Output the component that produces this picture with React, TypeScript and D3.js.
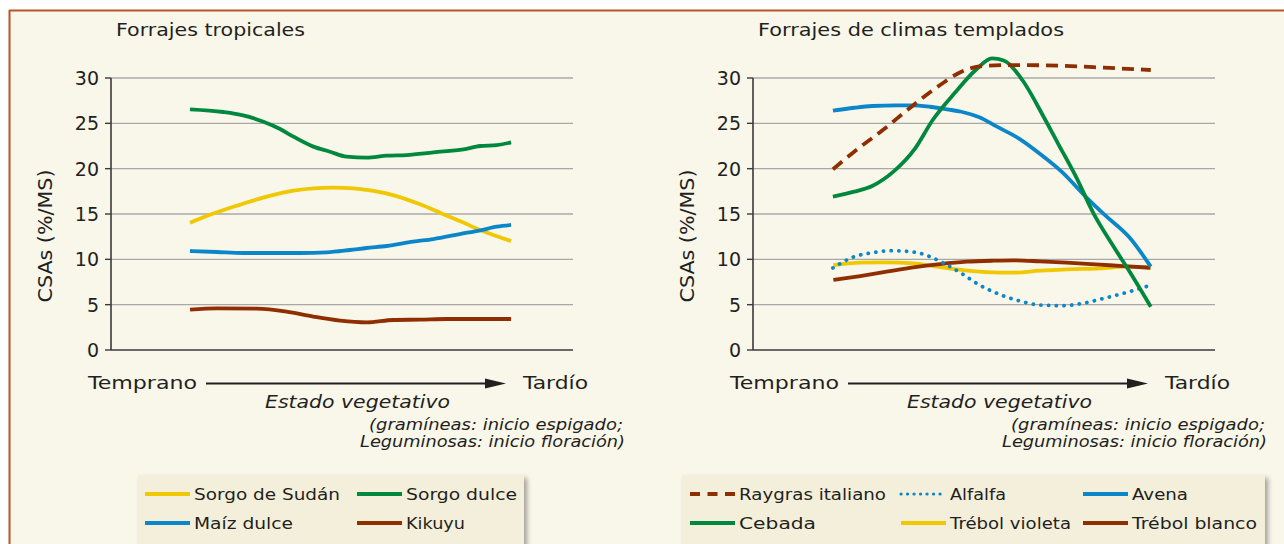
import React from "react";
import * as d3 from "d3";

// Stage along the vegetative axis (0 = axis start, 100 = axis end), CSAs (%/MS)
const sorgoSudan: [number, number][] = [
  [17.1, 14.04], [20.7, 14.78], [26.5, 15.8], [33.7, 16.91], [39.5, 17.57], [43.8, 17.83],
  [48.1, 17.9], [52.5, 17.83], [55.3, 17.65], [60.4, 17.17], [66.9, 16.07], [71.2, 15.14],
  [75.5, 14.23], [79.9, 13.24], [86.6, 12.02],
];
const sorgoDulce: [number, number][] = [
  [17.1, 26.55], [24.3, 26.25], [28.6, 25.88], [33.0, 25.18], [36.6, 24.37], [39.5, 23.53],
  [43.8, 22.43], [47.4, 21.87], [51.0, 21.32], [55.3, 21.21], [59.7, 21.43], [64.0, 21.5],
  [69.8, 21.8], [76.3, 22.13], [79.9, 22.5], [83.5, 22.6], [86.6, 22.9],
];
const maizDulce: [number, number][] = [
  [17.1, 10.92], [22.9, 10.81], [28.6, 10.7], [35.9, 10.7], [40.9, 10.7], [46.7, 10.77],
  [51.7, 11.03], [55.3, 11.25], [59.7, 11.47], [65.4, 11.95], [69.8, 12.24], [75.5, 12.79],
  [79.9, 13.2], [83.5, 13.6], [86.6, 13.79],
];
const kikuyu: [number, number][] = [
  [17.1, 4.45], [22.9, 4.6], [31.5, 4.56], [38.0, 4.23], [43.8, 3.68], [49.6, 3.24],
  [55.3, 3.05], [61.1, 3.31], [66.9, 3.35], [72.7, 3.42], [79.2, 3.42], [86.6, 3.42],
];

const raygras: [number, number][] = [
  [17.3, 19.93], [21.9, 21.87], [28.1, 24.26], [34.3, 26.84], [40.5, 29.23], [45.1, 30.7],
  [49.8, 31.32], [56.7, 31.43], [66.0, 31.36], [76.0, 31.14], [86.1, 30.88],
];
const cebada: [number, number][] = [
  [17.3, 16.91], [21.9, 17.46], [25.8, 18.09], [30.4, 19.67], [35.1, 22.24], [38.9, 25.37],
  [43.6, 28.31], [48.2, 30.88], [51.7, 32.17], [54.4, 31.91], [58.3, 29.78], [62.9, 25.73],
  [66.0, 22.8], [69.9, 19.12], [73.7, 15.08], [77.6, 11.77], [82.2, 8.09], [86.1, 4.78],
];
const avena: [number, number][] = [
  [17.3, 26.4], [21.9, 26.72], [25.8, 26.91], [31.2, 26.98], [34.3, 26.98], [38.2, 26.83],
  [42.0, 26.54], [45.1, 26.28], [49.0, 25.66], [52.8, 24.63], [57.5, 23.35], [62.9, 21.32],
  [66.8, 19.67], [72.2, 16.8], [76.0, 14.95], [81.5, 12.4], [86.1, 9.19],
];
const alfalfa: [number, number][] = [
  [17.3, 9.05], [21.9, 10.29], [25.8, 10.73], [29.7, 10.95], [33.5, 10.88], [37.4, 10.48],
  [41.3, 9.56], [45.1, 8.46], [49.0, 7.17], [52.8, 6.25], [57.5, 5.44], [62.1, 4.96],
  [66.8, 4.89], [71.4, 5.15], [76.0, 5.7], [80.7, 6.32], [86.1, 7.15],
];
const trebolVioleta: [number, number][] = [
  [17.4, 9.37], [23.2, 9.63], [28.9, 9.67], [34.7, 9.56], [39.0, 9.26], [45.5, 8.82],
  [50.6, 8.6], [56.3, 8.53], [62.1, 8.75], [67.9, 8.9], [75.1, 9.0], [80.9, 9.19], [86.1, 9.1],
];
const trebolBlanco: [number, number][] = [
  [17.4, 7.72], [23.2, 8.16], [28.9, 8.64], [34.7, 9.12], [40.5, 9.48], [46.3, 9.74],
  [52.0, 9.85], [56.3, 9.89], [62.1, 9.78], [67.9, 9.63], [75.1, 9.41], [80.2, 9.26], [86.0, 9.07],
];

const yTicks = [0, 5, 10, 15, 20, 25, 30];
const panelTitles = ["Forrajes tropicales", "Forrajes de climas templados"];

const C = {
  yellow: "#f0c800",
  green: "#00883f",
  blue: "#0b87c9",
  brown: "#8f2e00",
  text: "#231f20",
  grid: "#a8a8a8",
  bg: "#f9f6ea",
  legend: "#f3efda",
  border: "#b8562a",
};

type Series = { name: string; data: [number, number][]; color: string; dash?: string; dot?: boolean };

const tropical: Series[] = [
  { name: "Sorgo de Sudán", data: sorgoSudan, color: C.yellow },
  { name: "Sorgo dulce", data: sorgoDulce, color: C.green },
  { name: "Maíz dulce", data: maizDulce, color: C.blue },
  { name: "Kikuyu", data: kikuyu, color: C.brown },
];
const templado: Series[] = [
  { name: "Raygras italiano", data: raygras, color: C.brown, dash: "12 7" },
  { name: "Alfalfa", data: alfalfa, color: C.blue, dot: true },
  { name: "Avena", data: avena, color: C.blue },
  { name: "Cebada", data: cebada, color: C.green },
  { name: "Trébol violeta", data: trebolVioleta, color: C.yellow },
  { name: "Trébol blanco", data: trebolBlanco, color: C.brown },
];

const FONT = "'DejaVu Sans', sans-serif";

function Panel({ off, title, series }: { off: number; title: string; series: Series[] }) {
  const axisX = 111 + off;
  const x = d3.scaleLinear().domain([0, 100]).range([axisX, axisX + 462]);
  const y = d3.scaleLinear().domain([0, 30]).range([350, 78]);
  const line = d3
    .line<[number, number]>()
    .x((d) => x(d[0]))
    .y((d) => y(d[1]))
    .curve(d3.curveMonotoneX);
  const drawOrder = off === 0 ? series : [series[4], series[5], series[1], series[2], series[3], series[0]];
  return (
    <g>
      <text x={116 + off} y={36} fontFamily={FONT} fontSize={18.5} fill={C.text} textLength={title === panelTitles[0] ? 189 : 306} lengthAdjust="spacingAndGlyphs">
        {title}
      </text>
      {yTicks.map((t) => (
        <g key={t}>
          <line x1={axisX} x2={axisX + 462} y1={y(t)} y2={y(t)} stroke={t === 0 ? "#3a3a3a" : C.grid} strokeWidth={t === 0 ? 1.6 : 1.4} />
          <line x1={axisX - 6} x2={axisX} y1={y(t)} y2={y(t)} stroke="#3a3a3a" strokeWidth={1.4} />
          <text x={axisX - 12} y={y(t) + 7} textAnchor="end" fontFamily={FONT} fontSize={19} fill={C.text}>
            {t}
          </text>
        </g>
      ))}
      <line x1={axisX} x2={axisX} y1={y(30)} y2={y(0)} stroke="#3a3a3a" strokeWidth={1.6} />
      <text
        transform={`translate(${52 + off},236) rotate(-90)`}
        textAnchor="middle"
        fontFamily={FONT}
        fontSize={19}
        fill={C.text}
        textLength={133}
        lengthAdjust="spacingAndGlyphs"
      >
        CSAs (%/MS)
      </text>
      {drawOrder.map((s) => (
        <path
          key={s.name}
          d={line(s.data) || ""}
          fill="none"
          stroke={s.color}
          strokeWidth={s.dot ? 3.8 : 3.8}
          strokeDasharray={s.dot ? "0.1 7.6" : s.dash}
          strokeLinecap={s.dot ? "round" : "butt"}
          strokeLinejoin="round"
        />
      ))}
      <text x={88 + off} y={389} fontFamily={FONT} fontSize={18.5} fill={C.text} textLength={109} lengthAdjust="spacingAndGlyphs">
        Temprano
      </text>
      <text x={523 + off} y={389} fontFamily={FONT} fontSize={18.5} fill={C.text} textLength={65} lengthAdjust="spacingAndGlyphs">
        Tardío
      </text>
      <line x1={206 + off} x2={490 + off} y1={383.5} y2={383.5} stroke={C.text} strokeWidth={2} />
      <path d={`M${485 + off},378.5 L${506 + off},383.5 L${485 + off},388.5 Z`} fill={C.text} />
      <text x={265 + off} y={408} fontFamily={FONT} fontStyle="italic" fontSize={18.5} fill={C.text} textLength={185} lengthAdjust="spacingAndGlyphs">
        Estado vegetativo
      </text>
      <text x={369 + off} y={430} fontFamily={FONT} fontStyle="italic" fontSize={15.5} fill={C.text} textLength={254} lengthAdjust="spacingAndGlyphs">
        (gramíneas: inicio espigado;
      </text>
      <text x={360 + off} y={447} fontFamily={FONT} fontStyle="italic" fontSize={15.5} fill={C.text} textLength={265} lengthAdjust="spacingAndGlyphs">
        Leguminosas: inicio floración)
      </text>
    </g>
  );
}

type LegendItem = { s: Series; lx: number; tx: number; tw: number; row: number };

function Legend({ x0, x1, items }: { x0: number; x1: number; items: LegendItem[] }) {
  const rows = [494, 523];
  return (
    <g>
      <rect x={x0 + 3} y={478} width={x1 - x0} height={80} fill="#000" opacity={0.35} filter="url(#blur)" />
      <rect x={x0} y={475} width={x1 - x0} height={80} fill={C.legend} />
      {items.map((it) => (
        <g key={it.s.name}>
          <line
            x1={it.lx}
            x2={it.lx + 45}
            y1={rows[it.row]}
            y2={rows[it.row]}
            stroke={it.s.color}
            strokeWidth={it.s.dot ? 3.2 : 3.8}
            strokeDasharray={it.s.dot ? "0.1 6.4" : it.s.dash ? "10 7.5" : undefined}
            strokeLinecap={it.s.dot ? "round" : "butt"}
          />
          <text x={it.tx} y={rows[it.row] + 6} fontFamily={FONT} fontSize={16.5} fill={C.text} textLength={it.tw} lengthAdjust="spacingAndGlyphs">
            {it.s.name}
          </text>
        </g>
      ))}
    </g>
  );
}

export default function App() {
  const leftItems: LegendItem[] = [
    { s: tropical[0], lx: 145, tx: 194, tw: 146, row: 0 },
    { s: tropical[1], lx: 357, tx: 406, tw: 111, row: 0 },
    { s: tropical[2], lx: 145, tx: 194, tw: 99, row: 1 },
    { s: tropical[3], lx: 357, tx: 406, tw: 59, row: 1 },
  ];
  const rightItems: LegendItem[] = [
    { s: templado[0], lx: 690, tx: 739, tw: 147, row: 0 },
    { s: templado[1], lx: 901, tx: 950, tw: 56, row: 0 },
    { s: templado[2], lx: 1083, tx: 1132, tw: 56, row: 0 },
    { s: templado[3], lx: 690, tx: 739, tw: 77, row: 1 },
    { s: templado[4], lx: 901, tx: 950, tw: 121, row: 1 },
    { s: templado[5], lx: 1083, tx: 1132, tw: 125, row: 1 },
  ];
  return (
    <div style={{ position: "absolute", left: 0, top: 0 }}>
      <svg width={1284} height={544} style={{ display: "block", background: "#ffffff" }}>
        <defs>
          <filter id="blur" x="-10%" y="-10%" width="120%" height="130%">
            <feGaussianBlur stdDeviation={2.5} />
          </filter>
        </defs>
        <rect x={9} y={10} width={1275} height={534} fill={C.bg} />
        <line x1={9} x2={1284} y1={10.5} y2={10.5} stroke={C.border} strokeWidth={2} />
        <line x1={9.5} x2={9.5} y1={10} y2={544} stroke={C.border} strokeWidth={2} />
        <Panel off={0} title={panelTitles[0]} series={tropical} />
        <Panel off={642} title={panelTitles[1]} series={templado} />
        <Legend x0={138} x1={524} items={leftItems} />
        <Legend x0={682} x1={1265} items={rightItems} />
      </svg>
    </div>
  );
}
